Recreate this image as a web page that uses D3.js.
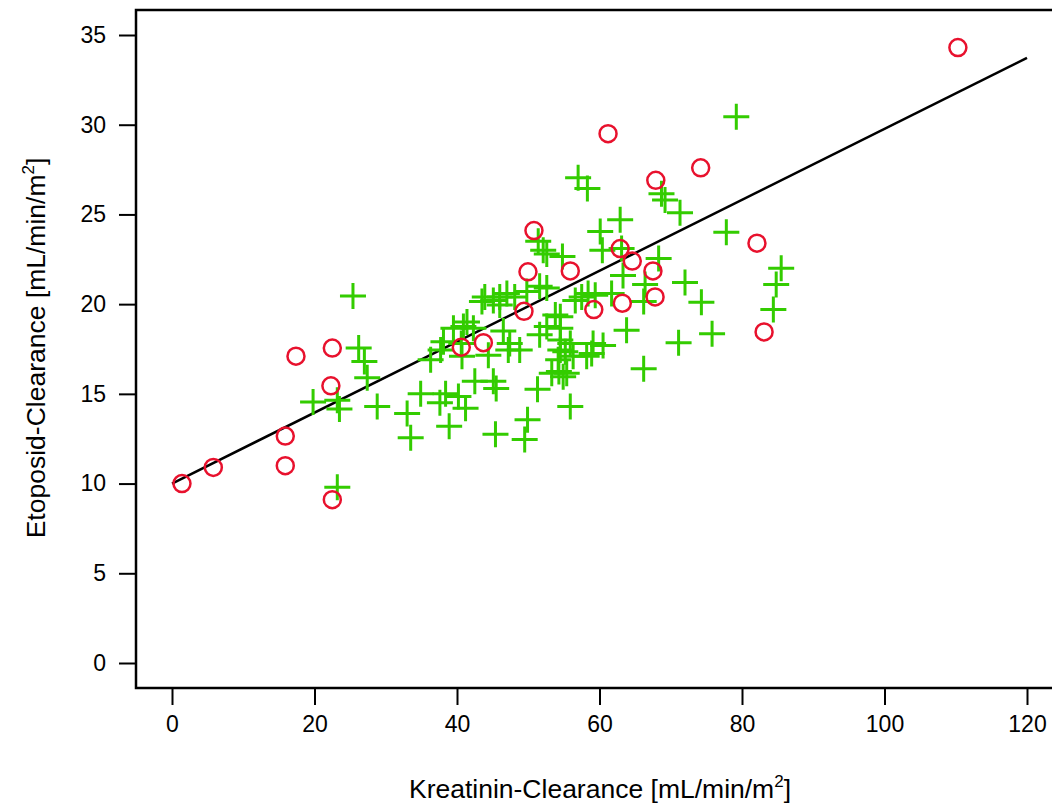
<!DOCTYPE html>
<html>
<head>
<meta charset="utf-8">
<script src="https://cdn.jsdelivr.net/npm/d3@7"></script>
<style>
  body { margin: 0; background: #fff; }
  text { font-family: "Liberation Sans", Arial, sans-serif; }
</style>
</head>
<body>
<div id="chart"></div>
<script>
// tick values
var xTicks = [0, 20, 40, 60, 80, 100, 120];
var yTicks = [0, 5, 10, 15, 20, 25, 30, 35];

// red circles [kreatinin, etoposid]
var circlePoints = [
  [1.4, 10.0], [5.8, 10.9], [15.9, 12.65], [15.9, 11.0], [17.4, 17.1],
  [22.5, 17.55], [22.3, 15.45], [22.5, 9.1], [40.6, 17.6], [43.7, 17.85],
  [49.4, 19.6], [49.96, 21.8], [50.8, 24.1], [55.9, 21.85], [59.2, 19.7],
  [61.2, 29.5], [62.9, 23.1], [63.2, 20.05], [64.6, 22.4], [67.5, 21.85],
  [67.8, 20.4], [67.9, 26.9], [74.2, 27.6], [82.1, 23.4], [83.1, 18.45],
  [110.3, 34.3]
];

// green crosses [kreatinin, etoposid]
var crossPoints = [
  [25.4, 20.45], [26.2, 17.55], [27.0, 16.8], [27.4, 15.9], [19.8, 14.55],
  [23.2, 14.65], [23.5, 14.15], [28.8, 14.3], [33.0, 13.9], [33.5, 12.55],
  [34.9, 15.0], [23.2, 9.8],
  [36.3, 16.9], [37.7, 17.45], [38.1, 17.9], [40.7, 17.1], [37.6, 14.5],
  [38.4, 15.0], [40.2, 14.85], [41.2, 14.2], [42.5, 15.7], [38.9, 13.2],
  [39.5, 18.65], [40.9, 18.75], [41.4, 19.0], [42.3, 18.65], [40.6, 17.8],
  [43.5, 20.15], [43.9, 20.4], [44.4, 17.15],
  [45.1, 20.2], [46.0, 20.4], [47.0, 20.6], [48.1, 20.4], [49.8, 20.7],
  [46.0, 19.95], [46.5, 18.5], [47.4, 17.8], [47.2, 17.45], [48.8, 17.45],
  [45.5, 15.3], [45.1, 15.7], [45.4, 12.75], [49.9, 13.55], [49.5, 12.45],
  [51.4, 23.5], [52.1, 23.0], [52.6, 22.8], [54.8, 22.65], [51.6, 21.0],
  [52.6, 20.9], [53.8, 19.4], [51.6, 18.3], [52.6, 18.75], [51.3, 15.25],
  [53.3, 16.15], [54.5, 19.3], [54.5, 18.65], [54.5, 18.0], [54.5, 17.45],
  [54.2, 16.9], [54.3, 16.25], [54.9, 15.95], [55.4, 16.15], [55.2, 17.35],
  [56.3, 17.1], [55.9, 17.8], [55.9, 14.3], [56.6, 20.2],
  [57.0, 27.05], [58.3, 26.45], [60.1, 24.05], [62.9, 24.7], [60.4, 23.0],
  [63.1, 23.1], [63.3, 21.6], [58.4, 20.6], [61.7, 20.6], [59.4, 20.5],
  [63.8, 18.55], [60.5, 17.7], [59.1, 17.8], [58.2, 17.1], [58.9, 17.25],
  [57.5, 20.4],
  [68.7, 26.15], [69.2, 25.8], [71.3, 25.1], [79.2, 30.45], [77.8, 24.0],
  [68.3, 22.55], [66.4, 21.1], [72.0, 21.2], [66.2, 20.15], [74.3, 20.1],
  [75.8, 18.35], [71.1, 17.85], [66.2, 16.4],
  [85.5, 22.0], [84.8, 21.1], [84.4, 19.7]
];

// regression line ends
var lineX = [0, 120];
var lineY = [10.0, 33.72];

var svgWidth = 1052;
var svgHeight = 805;

var svg = d3.select("#chart")
  .append("svg")
  .attr("width", svgWidth)
  .attr("height", svgHeight);

var x = d3.scaleLinear().domain([0, 120]).range([172, 1027]);
var y = d3.scaleLinear().domain([0, 35]).range([663, 35]);

// plot box (right edge lies outside the picture)
var box = { left: 136, top: 10, right: 1105, bottom: 688 };

svg.append("rect")
  .attr("x", box.left)
  .attr("y", box.top)
  .attr("width", box.right - box.left)
  .attr("height", box.bottom - box.top)
  .attr("fill", "none")
  .attr("stroke", "#000")
  .attr("stroke-width", 2.5);

// axes
var xAxis = svg.append("g")
  .attr("transform", `translate(0, ${box.bottom})`)
  .call(d3.axisBottom(x).tickValues(xTicks).tickSize(17).tickPadding(11));

var yAxis = svg.append("g")
  .attr("transform", `translate(${box.left}, 0)`)
  .call(d3.axisLeft(y).tickValues(yTicks).tickSize(17).tickPadding(13));

[xAxis, yAxis].forEach(function (ax) {
  ax.select(".domain").remove();
  ax.selectAll(".tick line").attr("stroke", "#000").attr("stroke-width", 2);
  ax.selectAll(".tick text")
    .attr("fill", "#000")
    .style("font-size", "23px")
    .style("font-family", "'Liberation Sans', Arial, sans-serif");
});

// regression line
svg.append("line")
  .attr("x1", x(lineX[0]))
  .attr("y1", y(lineY[0]))
  .attr("x2", x(lineX[1]))
  .attr("y2", y(lineY[1]))
  .attr("stroke", "#000")
  .attr("stroke-width", 2.5);

// crosses
var crossArm = 13;
svg.append("g")
  .attr("stroke", "#33cc00")
  .attr("stroke-width", 3)
  .selectAll("path")
  .data(crossPoints)
  .enter()
  .append("path")
  .attr("d", function (d) {
    var cx = x(d[0]), cy = y(d[1]);
    return `M${cx - crossArm},${cy}H${cx + crossArm}M${cx},${cy - crossArm}V${cy + crossArm}`;
  });

// circles
svg.append("g")
  .selectAll("circle")
  .data(circlePoints)
  .enter()
  .append("circle")
  .attr("cx", d => x(d[0]))
  .attr("cy", d => y(d[1]))
  .attr("r", 8.5)
  .attr("fill", "none")
  .attr("stroke", "#e8112d")
  .attr("stroke-width", 2.5);

// axis titles
var xTitle = svg.append("text")
  .attr("x", 600)
  .attr("y", 798)
  .attr("text-anchor", "middle")
  .style("font-size", "26.5px");
xTitle.append("tspan").text("Kreatinin-Clearance [mL/min/m");
xTitle.append("tspan").attr("dy", -11).style("font-size", "17px").text("2");
xTitle.append("tspan").attr("dy", 11).text("]");

var yTitle = svg.append("text")
  .attr("transform", "translate(45, 348) rotate(-90)")
  .attr("text-anchor", "middle")
  .style("font-size", "26.5px");
yTitle.append("tspan").text("Etoposid-Clearance [mL/min/m");
yTitle.append("tspan").attr("dy", -11).style("font-size", "17px").text("2");
yTitle.append("tspan").attr("dy", 11).text("]");
</script>
</body>
</html>
